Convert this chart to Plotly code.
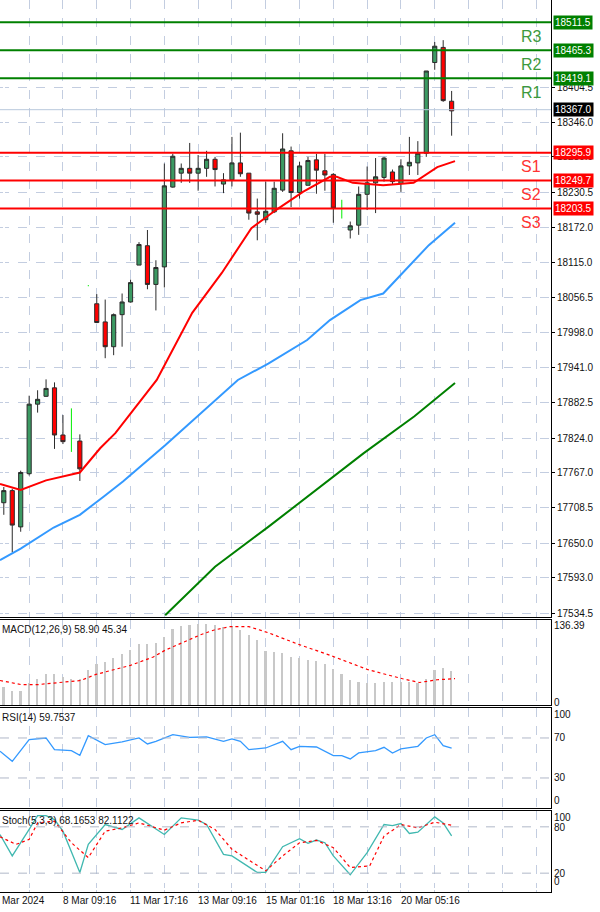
import plotly.graph_objects as go
from plotly.subplots import make_subplots

# ---- candles (bar index, OHLC) ----
idx = list(range(54))
opn = [17717, 17737, 17677, 17765, 17880, 17893, 17907, 17829, None, 17819,
       None, 18046, 18016, 17975, 18028, 18049, 18110, 18142, 18078, 18107,
       18239, 18262, 18270, 18262, 18270, 18285, 18244, 18251, 18279, 18262,
       18198, 18185, 18198, 18234, 18299, 18230, 18242, 18284, 18266, 18260,
       None, 18168, 18176, 18227, 18246, 18255, 18264, 18245, 18274, 18279,
       18295, 18445, 18470, 18381]
high = [17743, 17740, 17770, 17894, 17903, 17921, 17916, 17862, None, 17830,
        None, 18062, 18053, 18030, 18063, 18086, 18148, 18168, 18118, 18278,
        18294, 18278, 18312, 18292, 18299, 18289, 18262, 18322, 18329, 18262,
        18220, 18248, 18248, 18328, 18306, 18281, 18289, 18294, 18294, 18262,
        None, 18182, 18240, 18273, 18287, 18289, 18268, 18285, 18322, 18315,
        18431, 18479, 18482, 18398]
low = [17697, 17635, 17669, 17762, 17866, 17892, 17806, 17814, None, 17753,
       None, 18014, 17956, 17961, 17975, 18048, 18110, 18070, 18035, 18073,
       18238, 18246, 18246, 18233, 18256, 18240, 18229, 18240, 18256, 18185,
       18151, 18180, 18196, 18231, 18206, 18220, 18242, 18228, 18233, 18180,
       None, 18154, 18160, 18201, 18196, 18248, 18244, 18231, 18259, 18259,
       18289, 18433, 18380, 18324]
cls = [17737, 17680, 17767, 17880, 17888, 17906, 17829, 17818, None, 17773,
       None, 18015, 17975, 18028, 18049, 18081, 18144, 18078, 18106, 18241,
       18290, 18270, 18262, 18270, 18285, 18268, 18251, 18279, 18261, 18196,
       18194, 18199, 18237, 18302, 18230, 18274, 18283, 18267, 18259, 18204,
       None, 18175, 18227, 18246, 18256, 18287, 18248, 18274, 18280, 18295,
       18431, 18472, 18382, 18365]

# gap bars drawn as bright green ticks
gap_idx = [8, 10, 40]
gap_high = [17873, 18077, 18218]
gap_low = [17801, 18075, 18187]

# moving averages (index, price)
ma_red_x = [-0.45, 2, 5, 9, 11.4, 13.2, 18.1, 22.3, 25.8, 29.3, 32.2, 35.4, 38.6, 39.4, 41.3, 44.9, 48.5, 51.3, 53.4]
ma_red_y = [17748, 17738, 17754, 17767, 17807, 17832, 17920, 18031, 18097, 18171, 18201, 18231, 18256, 18256, 18246, 18242, 18246, 18272, 18282]
ma_blue_x = [-0.45, 2, 5.9, 9, 11.8, 14.1, 19.1, 23.1, 27.7, 31.3, 35.9, 38.6, 42.2, 44.9, 50.3, 53.4]
ma_blue_y = [17622, 17641, 17676, 17697, 17727, 17752, 17812, 17862, 17920, 17947, 17986, 18019, 18052, 18063, 18143, 18180]
ma_green_x = [19.1, 25, 31.3, 35.9, 42.6, 48.6, 53.4]
ma_green_y = [17531, 17611, 17677, 17727, 17799, 17860, 17915]

levels = {"R3": 18511.5, "R2": 18465.3, "R1": 18419.1,
          "S1": 18295.9, "S2": 18249.7, "S3": 18203.5}
last_price = 18367.0
price_ticks = [18571.5, 18404.5, 18346.0, 18289.0, 18230.5, 18172.0, 18115.0, 18056.5, 17998.0,
               17941.0, 17882.5, 17824.0, 17767.0, 17708.5, 17650.0, 17593.0, 17534.5]

# MACD
macd_hist = [30.5, 23.6, 24, 37.5, 45, 52.6, 52.6, 48, 45, 45, 60.7, 71, 74, 81.5, 87, 94,
             104, 104, 106, 117, 130, 136, 137.6, 139, 139, 137.6, 134.6, 136, 129, 120,
             111.5, 93, 91, 89.5, 82.6, 81.5, 78, 75.7, 70, 62.5, 52.6, 43.4, 39.2, 37.5,
             37.5, 39.2, 39.2, 39.2, 39.2, 37.5, 45, 60.7, 63.5, 58.9]
macd_sig_x = [-0.45, 2, 4.1, 9.1, 10.9, 15, 17.7, 19.1, 23.2, 24.9, 26.8, 29, 31.3, 34.9, 38.6, 43.1, 47.2, 49.2, 51.3, 53.4]
macd_sig_y = [42.2, 35.2, 35.2, 42.2, 52.6, 68.2, 82.6, 94.2, 120.2, 128.9, 134.7, 134.7, 124.2, 104.1, 85.5, 60.7, 45.1, 38.7, 43.4, 45.3]

# RSI
rsi_x = [-0.45, 1, 3, 5, 6, 8, 9, 10, 12, 14, 16, 17, 18, 20, 22, 24, 26, 27, 28, 29, 31, 33,
         34, 35, 37, 39, 40, 41, 42, 44, 45, 46, 47, 49, 50, 51, 52, 53]
rsi_y = [56.7, 46.7, 68.3, 70, 58.3, 57.3, 52.7, 72.3, 63.3, 66, 70, 64, 66.7, 73.3, 70.7, 71,
         66.7, 69, 66.7, 58.3, 60, 66.7, 58.3, 61.7, 61, 52.3, 52.3, 49, 55, 57.3, 60.7, 55,
         59, 61.7, 70, 73.3, 62.3, 59.75]

# Stochastic
st_x = [-0.45, 1, 3, 4, 5, 6, 7, 9, 10, 12, 14, 16, 19, 21, 23, 24, 26, 27, 30, 31, 33, 35,
        36, 37, 38, 39, 41, 43, 45, 46, 47, 48, 49, 51, 52, 53]
st_k = [70.1, 42.3, 76.6, 94.6, 94.6, 89.4, 74.4, 20.9, 57.3, 83, 76.6, 91.6, 70.1, 91.6,
        88.6, 83, 44.4, 42.3, 20.9, 20.9, 54.3, 64.6, 58.6, 62.9, 59.4, 42.3, 17.9, 46.6,
        83, 81.7, 84.3, 71.4, 73.1, 92.9, 85.1, 68.17]
sd_x = [-0.45, 1.45, 3, 4, 6, 8, 10, 12, 14, 16, 19, 21, 23, 25, 27, 31, 33, 35, 37, 39, 41,
        43.3, 45, 47, 49, 51, 53]
st_d = [67.1, 57.3, 63.7, 85.1, 87.3, 59.4, 40.1, 74.4, 78.7, 85.1, 75.7, 85.1, 88.6, 76.6,
        50.9, 23, 42.3, 59.4, 62.4, 53, 27.3, 29.4, 68, 83, 78.7, 86, 82.1]

grid_x = list(range(3, 65, 4))
x_labels = {7: "8 Mar 09:16", 15: "11 Mar 17:16", 23: "13 Mar 09:16",
            31: "15 Mar 01:16", 39: "18 Mar 13:16", 47: "20 Mar 05:16"}

GREEN = "#008000"
RED = "#ff0000"
GRID = "#c3cde0"
FONT = "Liberation Sans"
FS = 10

fig = make_subplots(rows=4, cols=1, shared_xaxes=True)

fig.add_trace(go.Candlestick(
    x=idx, open=opn, high=high, low=low, close=cls,
    increasing=dict(line=dict(color="#2b2b2b", width=1), fillcolor="#3c9a63"),
    decreasing=dict(line=dict(color="#2b2b2b", width=1), fillcolor="#ff0000"),
    whiskerwidth=0, showlegend=False), row=1, col=1)

gx, gy = [], []
for i, h, l in zip(gap_idx, gap_high, gap_low):
    gx += [i, i, None]
    gy += [h, l, None]
fig.add_trace(go.Scatter(x=gx, y=gy, mode="lines", line=dict(color="#00ee00", width=1),
                         showlegend=False), row=1, col=1)

fig.add_trace(go.Scatter(x=ma_red_x, y=ma_red_y, mode="lines",
                         line=dict(color=RED, width=2), showlegend=False), row=1, col=1)
fig.add_trace(go.Scatter(x=ma_blue_x, y=ma_blue_y, mode="lines",
                         line=dict(color="#3399ff", width=2), showlegend=False), row=1, col=1)
fig.add_trace(go.Scatter(x=ma_green_x, y=ma_green_y, mode="lines",
                         line=dict(color=GREEN, width=2), showlegend=False), row=1, col=1)

fig.add_trace(go.Bar(x=idx, y=macd_hist, marker=dict(color="#c8c8c8", line_width=0),
                     width=0.2, showlegend=False), row=2, col=1)
fig.add_trace(go.Scatter(x=macd_sig_x, y=macd_sig_y, mode="lines",
                         line=dict(color=RED, width=1.2, dash="dot"), showlegend=False), row=2, col=1)

fig.add_trace(go.Scatter(x=rsi_x, y=rsi_y, mode="lines",
                         line=dict(color="#3399ff", width=1.3), showlegend=False), row=3, col=1)

fig.add_trace(go.Scatter(x=st_x, y=st_k, mode="lines",
                         line=dict(color="#40b8b0", width=1.3), showlegend=False), row=4, col=1)
fig.add_trace(go.Scatter(x=sd_x, y=st_d, mode="lines",
                         line=dict(color=RED, width=1.2, dash="dot"), showlegend=False), row=4, col=1)

# level lines and labels
fig.add_hline(y=last_price, line=dict(color="#b8c8dc", width=1), row=1, col=1)
for name, v in levels.items():
    c = GREEN if name.startswith("R") else RED
    fig.add_hline(y=v, line=dict(color=c, width=2), row=1, col=1)
    fig.add_annotation(x=1, xref="paper", y=v, yref="y", xanchor="left", xshift=2,
                       text=f"{v:.1f}", showarrow=False, bgcolor=c,
                       font=dict(color="white", size=FS, family=FONT), borderpad=1)
    fig.add_annotation(x=62.4, y=v, text=name, showarrow=False, yshift=-14,
                       font=dict(color="#3c9a3c" if c == GREEN else "#ff3333", size=16, family=FONT))
fig.add_annotation(x=1, xref="paper", y=last_price, yref="y", xanchor="left", xshift=2,
                   text=f"{last_price:.1f}", showarrow=False, bgcolor="black",
                   font=dict(color="white", size=FS, family=FONT), borderpad=1)

for ref, lv in [("y3", [70, 30]), ("y4", [80, 20])]:
    for v in lv:
        fig.add_shape(type="line", xref="x domain", yref=ref, x0=0, x1=1, y0=v, y1=v,
                      line=dict(color="#b0b8c8", width=1, dash="dash"))

# panel titles
for yv, txt in [(0.303, "MACD(12,26,9) 58.90 45.34"), (0.2045, "RSI(14) 59.7537"),
                (0.089, "Stoch(5,3,3) 68.1653 82.1122")]:
    fig.add_annotation(x=0, xref="paper", y=yv, yref="paper", xanchor="left", yanchor="top",
                       text=txt, showarrow=False, font=dict(size=FS, color="#111", family=FONT))

fig.add_annotation(x=0, xref="paper", y=0, yref="paper", xanchor="left", yanchor="top",
                   text="Mar 2024", showarrow=False, yshift=-1,
                   font=dict(size=FS, color="#111", family=FONT))
for i, t in x_labels.items():
    fig.add_annotation(x=i - 0.25, y=0, yref="paper", xanchor="left", yanchor="top",
                       text=t, showarrow=False, yshift=-1,
                       font=dict(size=FS, color="#111", family=FONT))

axis_common = dict(showline=True, linecolor="black", linewidth=1, mirror=True,
                   automargin=False, tickfont=dict(size=FS, color="#111", family=FONT))
domains = [(0.3083, 1.0), (0.2096, 0.3049), (0.0942, 0.2063), (0.0, 0.0908)]
for r in range(1, 5):
    fig.update_xaxes(range=[-0.45, 64.76], tickvals=grid_x, showticklabels=False, ticks="",
                     showgrid=True, gridcolor=GRID, griddash="dash", gridwidth=1,
                     rangeslider_visible=False, row=r, col=1, **axis_common)
    fig.update_yaxes(side="right", domain=domains[r - 1], ticks="outside", ticklen=3,
                     tickcolor="black", row=r, col=1, **axis_common)

fig.update_yaxes(range=[17528, 18548.4], tickvals=price_ticks, ticktext=[f"{v:.1f}" for v in price_ticks],
                 showgrid=True, gridcolor=GRID, griddash="dash", row=1, col=1)
fig.update_yaxes(range=[0, 146], tickvals=[136.39, 3.5], ticktext=["136.39", "0"],
                 showgrid=False, ticks="", row=2, col=1)
fig.update_yaxes(range=[0, 100], tickvals=[93, 70, 30, 7], ticktext=["100", "70", "30", "0"],
                 showgrid=False, ticks="", row=3, col=1)
fig.update_yaxes(range=[-4.4, 100.5], tickvals=[92, 78.7, 20, 8.9], ticktext=["100", "80", "20", "0"],
                 showgrid=False, ticks="", row=4, col=1)

fig.update_layout(width=600, height=912, margin=dict(l=0, r=49, t=0, b=20, autoexpand=False),
                  plot_bgcolor="white", paper_bgcolor="white", bargap=0,
                  font=dict(family=FONT))
fig.write_html("out.html", config={"displayModeBar": False},
               post_script="document.body.style.margin='0';")
